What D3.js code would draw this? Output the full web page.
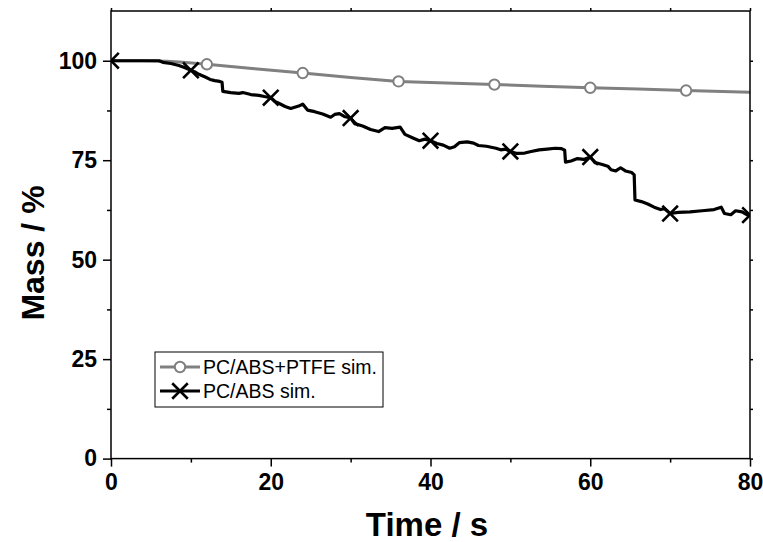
<!DOCTYPE html>
<html>
<head>
<meta charset="utf-8">
<script src="https://cdn.jsdelivr.net/npm/d3@7"></script>
<style>
  body { margin: 0; background: #fff; }
  svg text { font-family: Arial, "Liberation Sans", sans-serif; }
</style>
</head>
<body>
<svg width="763" height="542"></svg>
<script>
// data
var ptfeTime = [0, 4, 7, 9, 12, 18, 24, 30, 36, 42, 48, 54, 60, 66, 72, 80];
var ptfeMass = [100, 100, 99.9, 99.6, 99.1, 98.0, 96.9, 95.8, 94.8, 94.4, 94.0, 93.6, 93.2, 92.9, 92.5, 92.1];
var ptfeMarkers = [12, 24, 36, 48, 60, 72];

var absTime = [0, 3, 6, 6.5, 7.5, 8.5, 9.2, 10, 10.5, 11, 11.8, 12.4, 13, 13.6, 13.9, 14,
  15, 16, 16.5, 17.5, 18.5, 19.2, 20, 20.5, 21, 21.8, 22.5, 23.5, 24, 24.6, 25.5, 26.5,
  27.5, 28, 28.6, 29.2, 30, 30.5, 31.5, 32.5, 33.5, 34.3, 35.2, 36.2, 36.8, 37.8, 38.6,
  39.3, 40, 40.8, 41.6, 42.4, 43, 43.6, 44.6, 45.4, 46, 47, 48.2, 48.8, 49.4, 50, 50.8,
  51.8, 52.6, 53.6, 54.6, 55.6, 56.4, 56.8, 56.9, 57.6, 58.4, 59.2, 60, 60.6, 61.4, 62.2,
  62.6, 63.2, 63.8, 64.4, 65.2, 65.5, 65.6, 66.4, 67.2, 68, 68.8, 69.3, 70, 71, 72.5, 74,
  75.5, 76.4, 76.8, 77.6, 78.2, 79, 79.6, 80];
var absMass = [100, 100, 100, 99.6, 99.3, 98.8, 98.3, 97.6, 97.2, 96.6, 95.9, 95.3, 95.0, 94.8, 94.6, 92.3,
  92.0, 91.8, 92.0, 91.5, 91.3, 91.0, 90.7, 89.8, 89.3, 88.5, 88.0, 88.6, 89.1, 87.6, 87.2, 86.6,
  85.8, 86.5, 86.7, 86.0, 85.6, 84.2, 83.6, 82.7, 82.2, 83.2, 83.0, 83.3, 81.5, 80.6, 79.9,
  80.3, 79.9, 79.2, 78.8, 78.0, 78.4, 79.4, 79.6, 79.3, 78.7, 78.5, 78.0, 77.6, 77.8, 77.2, 76.7,
  76.8, 77.2, 77.6, 77.8, 78.0, 77.9, 77.5, 74.5, 74.8, 75.4, 75.2, 75.8, 74.4, 74.0, 73.5,
  72.6, 72.3, 73.1, 72.3, 71.9, 71.3, 65.0, 64.6, 64.0, 63.2, 62.6, 62.8, 61.6, 61.9, 62.0, 62.3,
  62.6, 63.2, 61.6, 61.3, 62.3, 62.0, 61.3, 61.2];
var absMarkers = [0, 10, 20, 30, 40, 50, 60, 70, 80];

var xTicks = [0, 20, 40, 60, 80];
var xMinor = [10, 30, 50, 70];
var yTicks = [0, 25, 50, 75, 100];
var yMinor = [12.5, 37.5, 62.5, 87.5];
var seriesNames = ["PC/ABS+PTFE sim.", "PC/ABS sim."];

var svg = d3.select("svg");
var pLeft = 111, pRight = 750, pTop = 11, pBottom = 458.6;

var x = d3.scaleLinear().domain([0, 80]).range([pLeft, pRight]);
var y = d3.scaleLinear().domain([0, 112.5]).range([pBottom, pTop]);

svg.append("clipPath").attr("id", "clip")
  .append("rect")
  .attr("x", pLeft).attr("y", pTop)
  .attr("width", pRight - pLeft).attr("height", pBottom - pTop);

var plot = svg.append("g").attr("clip-path", "url(#clip)");

function lookup(ts, vs, t) {
  return vs[ts.indexOf(t)];
}

var line = d3.line().x(function (d) { return x(d[0]); }).y(function (d) { return y(d[1]); });

// grey series
var grey = "#808080";
var ptfe = ptfeTime.map(function (t, i) { return [t, ptfeMass[i]]; });
plot.append("path")
  .datum(ptfe)
  .attr("fill", "none")
  .attr("stroke", grey)
  .attr("stroke-width", 3)
  .attr("d", line);

// black series
var abs = absTime.map(function (t, i) { return [t, absMass[i]]; });
plot.append("path")
  .datum(abs)
  .attr("fill", "none")
  .attr("stroke", "#000")
  .attr("stroke-width", 3.2)
  .attr("stroke-linejoin", "round")
  .attr("d", line);

plot.selectAll("circle.m")
  .data(ptfeMarkers)
  .enter().append("circle")
  .attr("class", "m")
  .attr("cx", function (t) { return x(t); })
  .attr("cy", function (t) { return y(lookup(ptfeTime, ptfeMass, t)); })
  .attr("r", 5.2)
  .attr("fill", "#fff")
  .attr("stroke", grey)
  .attr("stroke-width", 2);

var cross = d3.symbol().type(d3.symbolX).size(160);
plot.selectAll("path.x")
  .data(absMarkers)
  .enter().append("path")
  .attr("class", "x")
  .attr("d", cross)
  .attr("transform", function (t) {
    return "translate(" + x(t) + "," + y(lookup(absTime, absMass, t)) + ")";
  })
  .attr("fill", "none")
  .attr("stroke", "#000")
  .attr("stroke-width", 2.6);

// Axes
svg.append("rect")
  .attr("x", pLeft).attr("y", pTop)
  .attr("width", pRight - pLeft).attr("height", pBottom - pTop)
  .attr("fill", "none").attr("stroke", "#000").attr("stroke-width", 1.5);

function ticks(g) {
  g.select(".domain").remove();
  g.selectAll(".tick line").attr("stroke-width", 1.5);
  g.selectAll("text").attr("font-size", 23).attr("font-weight", "bold").attr("fill", "#000");
}

svg.append("g").attr("transform", "translate(0," + pBottom + ")")
  .call(d3.axisBottom(x).tickValues(xTicks).tickSize(8).tickPadding(7).tickFormat(d3.format("d")))
  .call(ticks);
svg.append("g").attr("transform", "translate(0," + pBottom + ")")
  .call(d3.axisBottom(x).tickValues(xMinor).tickSize(4).tickFormat(""))
  .call(ticks);
svg.append("g").attr("transform", "translate(" + pLeft + ",0)")
  .call(d3.axisLeft(y).tickValues(yTicks).tickSize(8).tickPadding(6).tickFormat(d3.format("d")))
  .call(ticks);
svg.append("g").attr("transform", "translate(" + pLeft + ",0)")
  .call(d3.axisLeft(y).tickValues(yMinor).tickSize(4).tickFormat(""))
  .call(ticks);
// top and right: small ticks, no labels
svg.append("g").attr("transform", "translate(0," + pTop + ")")
  .call(d3.axisTop(x).tickValues(xTicks.concat(xMinor)).tickSize(3).tickFormat(""))
  .call(ticks);
svg.append("g").attr("transform", "translate(" + pRight + ",0)")
  .call(d3.axisRight(y).tickValues(yTicks.concat(yMinor)).tickSize(3).tickFormat(""))
  .call(ticks);

svg.append("text")
  .attr("x", 427).attr("y", 536)
  .attr("text-anchor", "middle")
  .attr("font-size", 33).attr("font-weight", "bold")
  .text("Time / s");

svg.append("text")
  .attr("transform", "translate(44,253) rotate(-90)")
  .attr("text-anchor", "middle")
  .attr("font-size", 32).attr("font-weight", "bold")
  .text("Mass / %");

// Legend
var lg = svg.append("g");
lg.append("rect")
  .attr("x", 155).attr("y", 352).attr("width", 228).attr("height", 55)
  .attr("fill", "#fff").attr("stroke", "#000").attr("stroke-width", 1);

var rows = [367, 391];
lg.append("line").attr("x1", 160).attr("x2", 200).attr("y1", rows[0]).attr("y2", rows[0])
  .attr("stroke", grey).attr("stroke-width", 3);
lg.append("circle").attr("cx", 180).attr("cy", rows[0]).attr("r", 5.2)
  .attr("fill", "#fff").attr("stroke", grey).attr("stroke-width", 2);
lg.append("line").attr("x1", 160).attr("x2", 200).attr("y1", rows[1]).attr("y2", rows[1])
  .attr("stroke", "#000").attr("stroke-width", 3);
lg.append("path").attr("d", cross).attr("transform", "translate(180," + rows[1] + ")")
  .attr("fill", "none").attr("stroke", "#000").attr("stroke-width", 2.6);

lg.selectAll("text.lab")
  .data(seriesNames)
  .enter().append("text")
  .attr("class", "lab")
  .attr("x", 203)
  .attr("y", function (d, i) { return rows[i] + 7; })
  .attr("font-size", 19.5)
  .text(function (d) { return d; });
</script>
</body>
</html>
